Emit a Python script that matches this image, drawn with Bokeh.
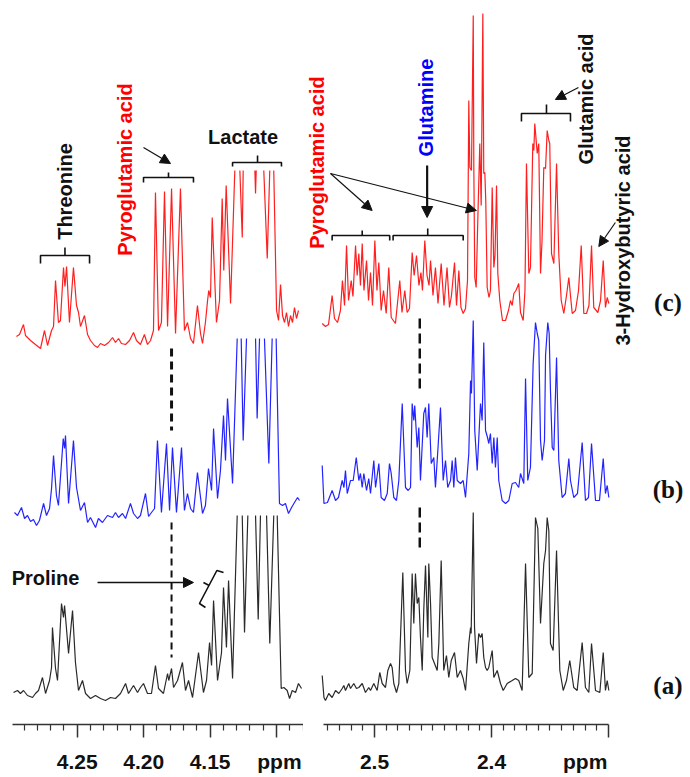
import math
from bokeh.plotting import figure
from bokeh.models import Range1d, FixedTicker, Label, Arrow, NormalHead
from bokeh.layouts import row
from bokeh.embed import file_html
from bokeh.resources import INLINE

nan = float("nan")

# ---------------- data: left panel (4.08 - 4.30 ppm) ----------------
L_RED_PPM = [4.2957, 4.2934, 4.2904, 4.2889, 4.2851, 4.2814, 4.2776, 4.2746, 4.2723, 4.2693,
             4.2678, 4.2663, 4.2641, 4.2626, 4.2603, 4.2592, 4.2580, 4.2558, 4.2528, 4.2505,
             4.2490, 4.2475, 4.2445, 4.2422, 4.2400, 4.2370, 4.2347, 4.2325, 4.2294, 4.2264,
             4.2234, 4.2212, 4.2189, 4.2167, 4.2136, 4.2106, 4.2076, 4.2054, 4.2024, 4.1994,
             4.1971, 4.1948, 4.1926, 4.1911, 4.1888, 4.1866, 4.1843, 4.1820, 4.1790, 4.1760,
             4.1723, 4.1693, 4.1670, 4.1647, 4.1625, 4.1595, 4.1572, 4.1557, 4.1535, 4.1519,
             4.1510, 4.1497, 4.1484, 4.1452, 4.1429, 4.1409, 4.1397, 4.1379, 4.1346, 4.1314,
             nan, 4.1276, 4.1258, 4.1251, nan, 4.1163, 4.1158, 4.1153, nan, 4.1096,
             4.1070, 4.1051, nan, 4.1021, 4.1000, 4.0985, 4.0970, 4.0955, 4.0940, 4.0925,
             4.0910, 4.0895, 4.0880, 4.0865, 4.0850, 4.0835]
L_RED_INT = [14, 16, 26, 15, 10, 6, 2, 20, 5, 20,
             24, 70, 28, 30, 83, 64, 84, 28, 83, 45,
             38, 24, 35, 16, 10, 5, 3, 7, 5, 8,
             13, 8, 12, 7, 6, 10, 18, 10, 6, 16,
             6, 10, 20, 158, 20, 28, 159, 24, 162, 17,
             162, 20, 28, 12, 7, 45, 17, 7, 28, 50,
             60, 53, 133, 28, 50, 152, 80, 165, 47, 180,
             nan, 180, 113, 180, nan, 180, 157, 180, nan, 180,
             92, 180, nan, 180, 40, 30, 66, 35, 28, 38,
             24, 35, 28, 43, 32, 40]

L_BLUE_PPM = [4.2972, 4.2949, 4.2919, 4.2896, 4.2874, 4.2851, 4.2829, 4.2806, 4.2784, 4.2753,
              4.2731, 4.2708, 4.2693, 4.2678, 4.2656, 4.2641, 4.2605, 4.2595, 4.2588, 4.2565,
              4.2528, 4.2505, 4.2475, 4.2445, 4.2422, 4.2400, 4.2362, 4.2340, 4.2310, 4.2272,
              4.2234, 4.2212, 4.2189, 4.2159, 4.2136, 4.2099, 4.2076, 4.2046, 4.2024, 4.1986,
              4.1963, 4.1941, 4.1918, 4.1896, 4.1866, 4.1828, 4.1805, 4.1783, 4.1753, 4.1715,
              4.1693, 4.1670, 4.1647, 4.1625, 4.1595, 4.1557, 4.1535, 4.1512, 4.1489, 4.1474,
              4.1444, 4.1422, 4.1399, 4.1384, 4.1369, 4.1331, 4.1296, nan, 4.1266, 4.1251,
              4.1226, nan, 4.1158, 4.1146, 4.1128, nan, 4.1091, 4.1058, 4.1033, nan,
              4.1003, 4.0978, 4.0955, 4.0933, 4.0910, 4.0887, 4.0865, 4.0842, 4.0827]
L_BLUE_INT = [18, 15, 23, 12, 15, 9, 11, 5, 10, 27,
              15, 22, 42, 75, 35, 25, 92, 82, 95, 27,
              90, 43, 20, 28, 8, 13, 3, 12, 8, 15,
              13, 18, 13, 17, 12, 27, 17, 12, 15, 37,
              14, 18, 22, 90, 18, 87, 20, 83, 18, 83,
              20, 37, 22, 18, 58, 17, 25, 62, 40, 102,
              32, 60, 115, 70, 132, 47, 192, nan, 192, 90,
              192, nan, 192, 112, 192, nan, 192, 67, 192, nan,
              192, 27, 25, 27, 17, 23, 28, 33, 30]

L_BLACK_PPM = [4.2979, 4.2949, 4.2927, 4.2904, 4.2874, 4.2836, 4.2814, 4.2791, 4.2761, 4.2738,
               4.2708, 4.2693, 4.2686, 4.2663, 4.2648, 4.2618, 4.2603, 4.2595, 4.2565, 4.2535,
               4.2513, 4.2490, 4.2460, 4.2437, 4.2400, 4.2362, 4.2325, 4.2287, 4.2249, 4.2212,
               4.2174, 4.2136, 4.2114, 4.2076, 4.2046, 4.2024, 4.2001, 4.1971, 4.1941, 4.1911,
               4.1888, 4.1851, 4.1820, 4.1811, 4.1790, 4.1775, 4.1745, 4.1708, 4.1685, 4.1662,
               4.1632, 4.1587, 4.1550, 4.1527, 4.1504, 4.1489, 4.1474, 4.1444, 4.1414, 4.1399,
               4.1377, 4.1361, 4.1331, 4.1296, nan, 4.1258, 4.1241, 4.1216, nan, 4.1158,
               4.1138, 4.1121, nan, 4.1075, 4.1051, 4.1021, nan, 4.0995, 4.0965, 4.0945,
               4.0920, 4.0902, 4.0882, 4.0857, 4.0835, 4.0812]
L_BLACK_INT = [8, 10, 7, 10, 5, 3, 7, 10, 23, 7,
               20, 33, 73, 32, 20, 97, 83, 95, 47, 90,
               38, 10, 20, 7, 2, 5, 2, 0, 3, 2,
               7, 17, 7, 15, 8, 13, 17, 7, 7, 35,
               12, 7, 27, 20, 32, 13, 20, 38, 10, 20,
               3, 48, 8, 20, 58, 35, 100, 20, 48, 113,
               53, 120, 22, 185, nan, 185, 68, 185, nan, 185,
               81, 185, nan, 185, 57, 185, nan, 185, 12, 13,
               10, 2, 10, 8, 17, 12]

# ---------------- data: right panel (2.30 - 2.54 ppm) ----------------
R_RED_PPM = [2.5447, 2.5419, 2.5393, 2.5362, 2.5342, 2.5316, 2.5291, 2.5274, 2.5256, 2.5239,
             2.5222, 2.5199, 2.5184, 2.5162, 2.5148, 2.5134, 2.5120, 2.5105, 2.5090, 2.5068,
             2.5051, 2.5034, 2.5017, 2.4997, 2.4979, 2.4963, 2.4943, 2.4923, 2.4900, 2.4878,
             2.4857, 2.4821, 2.4784, 2.4765, 2.4741, 2.4721, 2.4701, 2.4678, 2.4661, 2.4641,
             2.4620, 2.4603, 2.4590, 2.4570, 2.4551, 2.4534, 2.4521, 2.4500, 2.4479, 2.4457,
             2.4430, 2.4406, 2.4380, 2.4359, 2.4342, 2.4316, 2.4299, 2.4279, 2.4261, 2.4242,
             2.4222, 2.4205, 2.4194, 2.4185, 2.4171, 2.4156, 2.4151, 2.4143, 2.4131, 2.4115,
             2.4100, 2.4088, 2.4074, 2.4066, 2.4057, 2.4049, 2.4037, 2.4021, 2.4009, 2.3994,
             2.3980, 2.3970, 2.3957, 2.3946, 2.3929, 2.3906, 2.3880, 2.3855, 2.3838, 2.3823,
             2.3809, 2.3791, 2.3767, 2.3752, 2.3729, 2.3714, 2.3701, 2.3681, 2.3667, 2.3647,
             2.3638, 2.3630, 2.3609, 2.3596, 2.3581, 2.3568, 2.3553, 2.3538, 2.3524, 2.3510,
             2.3502, 2.3487, 2.3467, 2.3444, 2.3425, 2.3404, 2.3382, 2.3359, 2.3339, 2.3325,
             2.3310, 2.3282, 2.3256, 2.3233, 2.3211, 2.3188, 2.3167, 2.3145, 2.3126, 2.3091,
             2.3068, 2.3045, 2.3026, 2.3011, 2.2997]
R_RED_INT = [3, 0, 2, 31, 8, 4, 16, 46, 21, 81,
             26, 46, 30, 81, 51, 73, 41, 83, 36, 66,
             26, 54, 21, 86, 36, 64, 16, 36, 13, 59,
             9, 3, 46, 14, 36, 14, 18, 74, 51, 71,
             41, 54, 36, 86, 51, 41, 66, 31, 59, 23,
             63, 21, 59, 19, 31, 64, 21, 56, 19, 13,
             18, 46, 226, 159, 156, 311, 159, 49, 39, 116,
             183, 121, 313, 153, 154, 126, 39, 29, 36, 139,
             59, 71, 141, 53, 26, 6, 6, 16, 26, 21,
             33, 36, 43, 14, 6, 36, 163, 53, 59, 183,
             176, 203, 173, 183, 53, 86, 159, 158, 196, 186,
             183, 73, 63, 163, 73, 26, 13, 31, 49, 31,
             13, 16, 36, 81, 13, 13, 21, 81, 19, 14,
             26, 66, 19, 29, 23]

R_BLUE_PPM = [2.5447, 2.5432, 2.5402, 2.5362, 2.5333, 2.5308, 2.5276, 2.5261, 2.5248, 2.5233,
              2.5205, 2.5182, 2.5156, 2.5134, 2.5120, 2.5105, 2.5091, 2.5068, 2.5049, 2.5034,
              2.5006, 2.4991, 2.4963, 2.4943, 2.4915, 2.4891, 2.4872, 2.4857, 2.4835, 2.4812,
              2.4792, 2.4763, 2.4735, 2.4712, 2.4692, 2.4678, 2.4664, 2.4656, 2.4635, 2.4621,
              2.4607, 2.4579, 2.4564, 2.4550, 2.4536, 2.4515, 2.4493, 2.4479, 2.4457, 2.4436,
              2.4413, 2.4393, 2.4374, 2.4350, 2.4336, 2.4322, 2.4308, 2.4293, 2.4265, 2.4242,
              2.4222, 2.4194, 2.4179, 2.4171, 2.4156, 2.4143, 2.4122, 2.4094, 2.4080, 2.4066,
              2.4051, 2.4034, 2.4023, 2.4009, 2.3994, 2.3980, 2.3966, 2.3951, 2.3938, 2.3909,
              2.3880, 2.3852, 2.3823, 2.3795, 2.3767, 2.3752, 2.3724, 2.3709, 2.3690, 2.3667,
              2.3644, 2.3624, 2.3609, 2.3596, 2.3581, 2.3567, 2.3547, 2.3538, 2.3519, 2.3507,
              2.3496, 2.3481, 2.3467, 2.3444, 2.3425, 2.3396, 2.3368, 2.3339, 2.3325, 2.3297,
              2.3265, 2.3225, 2.3197, 2.3171, 2.3145, 2.3111, 2.3077, 2.3045, 2.3026, 2.3011,
              2.2997]
R_BLUE_INT = [45, 7, 8, 20, 10, 13, 30, 23, 40, 17,
              30, 30, 53, 30, 37, 23, 37, 20, 32, 17,
              50, 23, 47, 13, 10, 17, 47, 37, 13, 10,
              30, 107, 23, 20, 23, 107, 90, 105, 63, 83,
              30, 97, 103, 73, 107, 47, 53, 23, 63, 103,
              30, 50, 23, 30, 50, 23, 53, 30, 27, 30,
              13, 57, 130, 117, 190, 80, 40, 107, 90, 168,
              80, 73, 67, 77, 47, 73, 43, 73, 30, 10,
              7, 10, 27, 28, 23, 37, 27, 132, 30, 43,
              147, 188, 177, 170, 70, 50, 70, 155, 188, 177,
              120, 63, 60, 153, 50, 13, 17, 52, 30, 13,
              17, 68, 10, 13, 67, 10, 10, 52, 17, 25,
              13]

R_BLACK_PPM = [2.5447, 2.5432, 2.5419, 2.5391, 2.5362, 2.5333, 2.5305, 2.5276, 2.5262, 2.5248,
               2.5220, 2.5205, 2.5177, 2.5154, 2.5134, 2.5105, 2.5077, 2.5049, 2.5034, 2.5006,
               2.4977, 2.4955, 2.4934, 2.4906, 2.4886, 2.4863, 2.4849, 2.4835, 2.4812, 2.4792,
               2.4758, 2.4735, 2.4721, 2.4698, 2.4678, 2.4664, 2.4650, 2.4635, 2.4621, 2.4607,
               2.4592, 2.4579, 2.4564, 2.4544, 2.4536, 2.4521, 2.4507, 2.4487, 2.4464, 2.4450,
               2.4430, 2.4408, 2.4385, 2.4365, 2.4344, 2.4316, 2.4293, 2.4265, 2.4242, 2.4222,
               2.4194, 2.4179, 2.4174, 2.4156, 2.4145, 2.4128, 2.4109, 2.4094, 2.4080, 2.4066,
               2.4051, 2.4037, 2.4023, 2.3994, 2.3980, 2.3951, 2.3923, 2.3900, 2.3866, 2.3823,
               2.3795, 2.3767, 2.3738, 2.3709, 2.3681, 2.3652, 2.3624, 2.3604, 2.3581, 2.3553,
               2.3538, 2.3524, 2.3510, 2.3496, 2.3473, 2.3444, 2.3416, 2.3387, 2.3359, 2.3331,
               2.3297, 2.3268, 2.3225, 2.3197, 2.3168, 2.3145, 2.3111, 2.3074, 2.3045, 2.3026,
               2.3011, 2.2997]
R_BLACK_INT = [27, 5, 2, 9, 5, 12, 9, 14, 17, 12,
               19, 14, 19, 14, 15, 19, 10, 15, 12, 19,
               12, 30, 19, 15, 32, 39, 35, 19, 10, 19,
               130, 32, 19, 32, 129, 79, 129, 99, 105, 65,
               32, 92, 137, 65, 139, 99, 45, 39, 32, 59,
               142, 32, 47, 25, 42, 50, 25, 32, 24, 12,
               59, 75, 69, 190, 75, 39, 69, 65, 69, 45,
               35, 32, 35, 52, 25, 32, 19, 12, 19, 22,
               24, 22, 12, 139, 25, 29, 185, 174, 79, 139,
               152, 185, 172, 59, 52, 152, 32, 12, 22, 42,
               15, 12, 60, 15, 10, 59, 12, 10, 50, 12,
               22, 12]

# axis ticks and tick labels
NB = "\u00a0"
L_MAJOR = [4.10, 4.15, 4.20, 4.25]
L_LABELS = {4.10: NB + "ppm", 4.15: "4.15", 4.20: "4.20", 4.25: "4.25"}
L_MINOR = [4.08, 4.09, 4.11, 4.12, 4.13, 4.14, 4.16, 4.17, 4.18, 4.19, 4.21, 4.22,
           4.23, 4.24, 4.26, 4.27, 4.28, 4.29]
R_MAJOR = [2.3, 2.4, 2.5]
R_LABELS = {2.3: "ppm" + NB * 8, 2.4: "2.4", 2.5: "2.5"}
R_MINOR = [2.31, 2.32, 2.33, 2.34, 2.35, 2.36, 2.37, 2.38, 2.39, 2.41, 2.42, 2.43,
           2.44, 2.45, 2.46, 2.47, 2.48, 2.49, 2.51, 2.52, 2.53, 2.54]

# ---------------- layout / style ----------------
OFF = {"L_red": 374, "L_blue": 194, "L_black": 24,
       "R_red": 398, "R_blue": 214, "R_black": 22}
RED, BLUE, BLACK = "#ff1f1f", "#2323ff", "#2a2a2a"
SANS = "Liberation Sans"
SERIF = "Liberation Serif"
H = 776
FRAME_H = 724


def make_fig(width, xr, bounds, major, minor, labels):
    p = figure(width=width, height=H, x_range=Range1d(*xr), y_range=Range1d(0, FRAME_H),
               output_backend="svg", toolbar_location=None, y_axis_location=None,
               min_border_left=0, min_border_right=0, min_border_top=0,
               min_border_bottom=H - FRAME_H)
    p.xgrid.visible = False
    p.ygrid.visible = False
    p.outline_line_color = None
    p.background_fill_color = "white"
    p.border_fill_color = "white"
    ax = p.xaxis[0]
    ax.ticker = FixedTicker(ticks=major, minor_ticks=minor)
    ax.bounds = bounds
    ax.major_label_overrides = labels
    ax.major_label_text_font = SANS
    ax.major_label_text_font_style = "bold"
    ax.major_label_text_font_size = "21px"
    ax.major_label_text_color = "#111111"
    ax.major_label_standoff = 12
    ax.axis_line_width = 1.5
    ax.axis_line_color = "#333333"
    ax.major_tick_line_width = 1.5
    ax.major_tick_line_color = "#333333"
    ax.minor_tick_line_width = 1.2
    ax.minor_tick_line_color = "#333333"
    ax.major_tick_in = 0
    ax.major_tick_out = 13
    ax.minor_tick_in = 0
    ax.minor_tick_out = 6
    return p


def trace(p, xs, ys, off, color):
    p.line(list(xs), [off + y for y in ys], line_color=color, line_width=1.2)


def vtext(p, text, x, y, color="#111111", size="20px"):
    p.add_layout(Label(x=x, y=y, text=text, angle=math.pi / 2, text_align="center",
                       text_baseline="alphabetic", text_font=SANS, text_font_style="bold",
                       text_font_size=size, text_color=color))


def htext(p, text, x, y, color="#111111", size="20px", font=SANS, baseline="alphabetic"):
    p.add_layout(Label(x=x, y=y, text=text, text_align="center", text_baseline=baseline,
                       text_font=font, text_font_style="bold", text_font_size=size,
                       text_color=color))


def bracket(p, xl, xr, xm, ybar, yend, ytick):
    p.multi_line([[xl, xl, xr, xr], [xm, xm]], [[yend, ybar, ybar, yend], [ybar, ytick]],
                 line_color="#111111", line_width=1.6)


def arrow(p, x0, y0, x1, y1, w=1.2, size=10):
    p.add_layout(Arrow(end=NormalHead(size=size, fill_color="#111111", line_color="#111111"),
                       x_start=x0, y_start=y0, x_end=x1, y_end=y1,
                       line_color="#111111", line_width=w))


# ---------------- left panel ----------------
left = make_fig(303, (4.3077, 4.07972), (4.08, 4.2985), L_MAJOR, L_MINOR, L_LABELS)
trace(left, L_RED_PPM, L_RED_INT, OFF["L_red"], RED)
trace(left, L_BLUE_PPM, L_BLUE_INT, OFF["L_blue"], BLUE)
trace(left, L_BLACK_PPM, L_BLACK_INT, OFF["L_black"], BLACK)

left.line([4.1790, 4.1790], [376, 294], line_color="#111111", line_width=3, line_dash="8 5")
left.line([4.1790, 4.1790], [202, 67], line_color="#111111", line_width=2, line_dash="7 5")

bracket(left, 4.2776, 4.2407, 4.2592, 469, 461, 477)   # threonine
bracket(left, 4.2001, 4.1625, 4.1813, 547, 542, 552)   # pyroglutamic
bracket(left, 4.1331, 4.0963, 4.1143, 562, 558, 569)   # lactate
left.multi_line([[4.1399, 4.1449, 4.1580, 4.1535], [4.1507, 4.1550]],
                [[152, 154, 121, 117], [139, 142]], line_color="#111111", line_width=1.6)  # proline

vtext(left, "Threonine", 4.2590, 533)
vtext(left, "Pyroglutamic acid", 4.2144, 555, color="#ff0000")
htext(left, "Lactate", 4.1252, 588)
htext(left, "Proline", 4.2738, 147)
arrow(left, 4.2001, 577, 4.1798, 561)
arrow(left, 4.2347, 142, 4.1625, 142, w=1.5)

# ---------------- right panel ----------------
right = make_fig(385, (2.56068, 2.23162), (2.30, 2.544), R_MAJOR, R_MINOR, R_LABELS)
trace(right, R_RED_PPM, R_RED_INT, OFF["R_red"], RED)
trace(right, R_BLUE_PPM, R_BLUE_INT, OFF["R_blue"], BLUE)
trace(right, R_BLACK_PPM, R_BLACK_INT, OFF["R_black"], BLACK)

right.line([2.4613, 2.4613], [406, 332], line_color="#111111", line_width=2.5, line_dash="10 5")
right.line([2.4613, 2.4613], [217, 172], line_color="#111111", line_width=2.5, line_dash="10 5")

bracket(right, 2.5362, 2.4870, 2.5105, 489, 484, 494)  # pyroglutamic
bracket(right, 2.4841, 2.4242, 2.4545, 489, 484, 496)  # glutamine
bracket(right, 2.3744, 2.3325, 2.3530, 611, 603, 620)  # glutamic acid

vtext(right, "Pyroglutamic acid", 2.5490, 562, color="#ff0000")
vtext(right, "Glutamine", 2.4556, 617, color="#0000ff")
vtext(right, "Glutamic acid", 2.3189, 625.5)
vtext(right, "3-Hydroxybutyric acid", 2.2872, 484)
htext(right, "(c)", 2.2492, 422, size="25px", font=SERIF, baseline="middle")
htext(right, "(b)", 2.2492, 235, size="25px", font=SERIF, baseline="middle")
htext(right, "(a)", 2.2492, 39, size="25px", font=SERIF, baseline="middle")

arrow(right, 2.5376, 551, 2.5020, 514)
arrow(right, 2.5376, 551, 2.4129, 514)
arrow(right, 2.4550, 559, 2.4550, 507, w=2.2, size=11)
arrow(right, 2.3257, 637, 2.3454, 625)
arrow(right, 2.2941, 502, 2.3083, 478)

layout = row(left, right)
open("out.html", "w").write(file_html(layout, INLINE))
